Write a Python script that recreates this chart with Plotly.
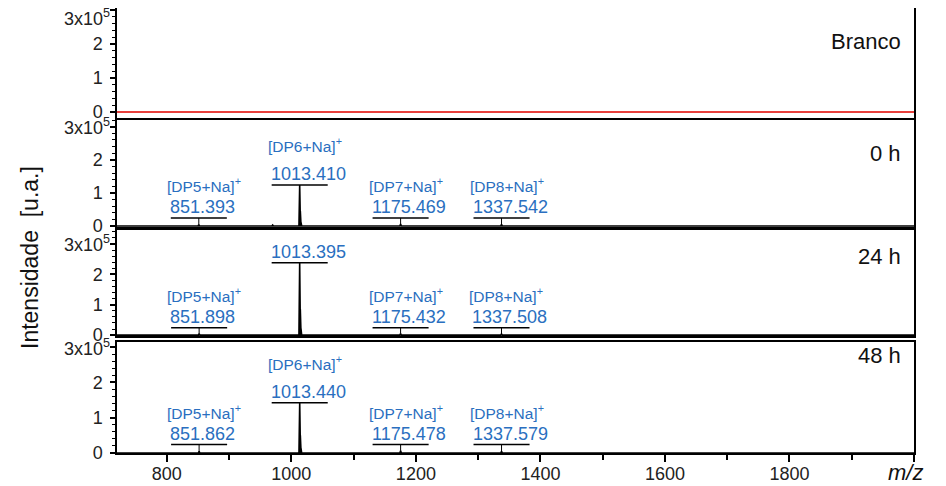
import plotly.graph_objects as go

# ---------------- data ----------------
mz_range = [720, 2000]
panel_names = ["Branco", "0 h", "24 h", "48 h"]

# spectra: peak m/z and intensity (counts)
blank_mz = [720, 2000]
blank_int = [0, 0]

h0_mz = [851.393, 970.0, 1013.410, 1014.41, 1015.41, 1175.469, 1337.542]
h0_int = [4000, 3000, 124000, 45000, 12000, 6000, 5000]

h24_mz = [851.898, 1013.395, 1014.40, 1015.40, 1175.432, 1337.508]
h24_int = [5000, 238000, 85000, 22000, 5000, 4000]

h48_mz = [851.862, 1013.440, 1014.44, 1015.44, 1175.478, 1337.579]
h48_int = [5000, 142000, 50000, 14000, 6000, 5000]

# labelled peaks
h0_lab_mz = [851.393, 1013.410, 1175.469, 1337.542]
h0_lab_int = [4000, 124000, 6000, 5000]
h0_lab_ion = ["[DP5+Na]", "[DP6+Na]", "[DP7+Na]", "[DP8+Na]"]

h24_lab_mz = [851.898, 1013.395, 1175.432, 1337.508]
h24_lab_int = [5000, 238000, 5000, 4000]
h24_lab_ion = ["[DP5+Na]", "", "[DP7+Na]", "[DP8+Na]"]

h48_lab_mz = [851.862, 1013.440, 1175.478, 1337.579]
h48_lab_int = [5000, 142000, 6000, 5000]
h48_lab_ion = ["[DP5+Na]", "[DP6+Na]", "[DP7+Na]", "[DP8+Na]"]

y_tickvals = [0, 100000, 200000, 300000]
y_ticktext = ["0", "1", "2", ""]
y_top_label = "3x10<sup>5</sup>"
x_tickvals = [800, 1000, 1200, 1400, 1600, 1800, 2000]
x_ticktext = ["800", "1000", "1200", "1400", "1600", "1800", ""]

# ---------------- styling / layout ----------------
FONT = "Liberation Sans, Arial, sans-serif"
BLUE = "#2a6fc0"
OFF = 8                      # default page (body) margin
W, H = 946 - OFF, 486 - OFF  # figure size inside the page
# plot area in window pixels
PL, PR, PT, PB = 117, 914, 8, 453
ML, MR, MT, MB = PL - OFF, (OFF + W) - PR, PT - OFF, (OFF + H) - PB
plot_w = PR - PL
plot_h = PB - PT

def frac(py):
    return (PB - py) / plot_h

def xfrac(px):
    return (px - PL) / plot_w

# pixel extents (window coords) of each panel (top, bottom)
panel_px = [(8, 118), (120, 227), (230, 336), (342, 453)]
y_ranges = [[-18000, 306000], [-3000, 320000], [-3000, 346000], [0, 314000]]
label_px_y = [42, 153, 256, 355]
top_label_shift = [-7, 0, 0, -1]

def stick_trace(mz, inten):
    xs, ys = [mz_range[0]], [0]
    for m, v in sorted(zip(mz, inten)):
        xs += [m - 1.2, m, m + 1.2]
        ys += [0, v, 0]
    xs.append(mz_range[1])
    ys.append(0)
    return xs, ys

fig = go.Figure()

fig.add_trace(go.Scatter(x=blank_mz, y=blank_int, mode="lines",
                         line=dict(color="#e8403c", width=2),
                         xaxis="x", yaxis="y", showlegend=False))

spectra = [(h0_mz, h0_int), (h24_mz, h24_int), (h48_mz, h48_int)]
for i, (mz, inten) in enumerate(spectra):
    xs, ys = stick_trace(mz, inten)
    n = i + 2
    fig.add_trace(go.Scatter(x=xs, y=ys, mode="lines",
                             line=dict(color="black", width=1.6),
                             xaxis=f"x{n}", yaxis=f"y{n}", showlegend=False))

layout = dict(
    width=W, height=H,
    margin=dict(l=ML, r=MR, t=MT, b=MB, autoexpand=False, pad=0),
    paper_bgcolor="white", plot_bgcolor="white",
    font=dict(family=FONT, size=18, color="#222"),
    hovermode=False,
)

for i in range(4):
    n = "" if i == 0 else str(i + 1)
    top, bot = panel_px[i]
    bottom = (i == 3)
    layout[f"xaxis{n}"] = dict(
        domain=[0, 1], range=mz_range, anchor=f"y{n}", automargin=False,
        showline=True, linecolor="black", linewidth=2 if bottom else 1.5,
        mirror=True, showgrid=False, zeroline=False,
        ticks="outside" if bottom else "",
        tickvals=x_tickvals if bottom else [],
        ticktext=x_ticktext if bottom else [],
        ticklen=7, tickwidth=1.5, tickcolor="black",
        showticklabels=bottom,
        ticklabelstandoff=-4,
        tickfont=dict(size=18, color="#222"),
        minor=dict(tickvals=[900, 1100, 1300, 1500, 1700, 1900],
                   ticks="outside", ticklen=5, tickwidth=1.5,
                   tickcolor="black") if bottom else dict(ticks=""),
    )
    layout[f"yaxis{n}"] = dict(
        domain=[frac(bot), frac(top)], range=y_ranges[i], anchor=f"x{n}",
        automargin=False,
        showline=True, linecolor="black", linewidth=1.5, mirror=True,
        showgrid=False, zeroline=False,
        ticks="outside", ticklen=5, tickwidth=1.5, tickcolor="black",
        tickvals=y_tickvals, ticktext=y_ticktext,
        tickfont=dict(size=18, color="#222"),
        ticklabelstandoff=4,
        minor=dict(dtick=20000, tick0=0, ticks="outside", ticklen=3,
                   tickwidth=1, tickcolor="black"),
    )

fig.update_layout(**layout)

shapes = []
annotations = []

# top tick labels, nudged down as in the original
for i in range(4):
    n = "" if i == 0 else str(i + 1)
    annotations.append(dict(x=0, y=y_tickvals[-1], xref="paper", yref=f"y{n}",
                            text=y_top_label, showarrow=False,
                            xanchor="right", yanchor="middle",
                            xshift=-5, yshift=top_label_shift[i],
                            font=dict(family=FONT, size=18, color="#222")))

labels = [(h0_lab_mz, h0_lab_int, h0_lab_ion),
          (h24_lab_mz, h24_lab_int, h24_lab_ion),
          (h48_lab_mz, h48_lab_int, h48_lab_ion)]
for i, (lmz, lint, lion) in enumerate(labels):
    n = str(i + 2)
    for m, v, ion in zip(lmz, lint, lion):
        bar_y = v if v > 50000 else 24000
        half = 45
        shapes.append(dict(type="line", xref=f"x{n}", yref=f"y{n}",
                           x0=m - half, x1=m + half, y0=bar_y, y1=bar_y,
                           line=dict(color="black", width=1.5)))
        if bar_y > v:
            shapes.append(dict(type="line", xref=f"x{n}", yref=f"y{n}",
                               x0=m, x1=m, y0=v, y1=bar_y,
                               line=dict(color="black", width=1)))
        annotations.append(dict(x=m - half, y=bar_y, xref=f"x{n}", yref=f"y{n}",
                                text=f"{m:.3f}", showarrow=False,
                                xanchor="left", yanchor="middle",
                                xshift=-3, yshift=11,
                                font=dict(family=FONT, size=18, color=BLUE)))
        if ion:
            big = v > 50000
            annotations.append(dict(x=m - half, y=bar_y, xref=f"x{n}", yref=f"y{n}",
                                    text=ion + "<sup>+</sup>", showarrow=False,
                                    xanchor="left", yanchor="middle",
                                    xshift=-6, yshift=40 if big else 33,
                                    font=dict(family=FONT, size=15.5, color=BLUE)))

for name, py in zip(panel_names, label_px_y):
    annotations.append(dict(x=xfrac(903), y=frac(py),
                            xref="paper", yref="paper", text=name,
                            showarrow=False, xanchor="right", yanchor="middle",
                            font=dict(family=FONT, size=22, color="#111")))

annotations.append(dict(x=xfrac(30), y=frac(258),
                        xref="paper", yref="paper",
                        text="Intensidade\u00a0\u00a0[u.a.]", textangle=-90,
                        showarrow=False, xanchor="center", yanchor="middle",
                        font=dict(family=FONT, size=23, color="#111")))
annotations.append(dict(x=xfrac(905), y=frac(472),
                        xref="paper", yref="paper", text="<i>m/z</i>",
                        showarrow=False, xanchor="center", yanchor="middle",
                        font=dict(family=FONT, size=22, color="#111")))

fig.update_layout(shapes=shapes, annotations=annotations)
fig.write_html("out.html")
